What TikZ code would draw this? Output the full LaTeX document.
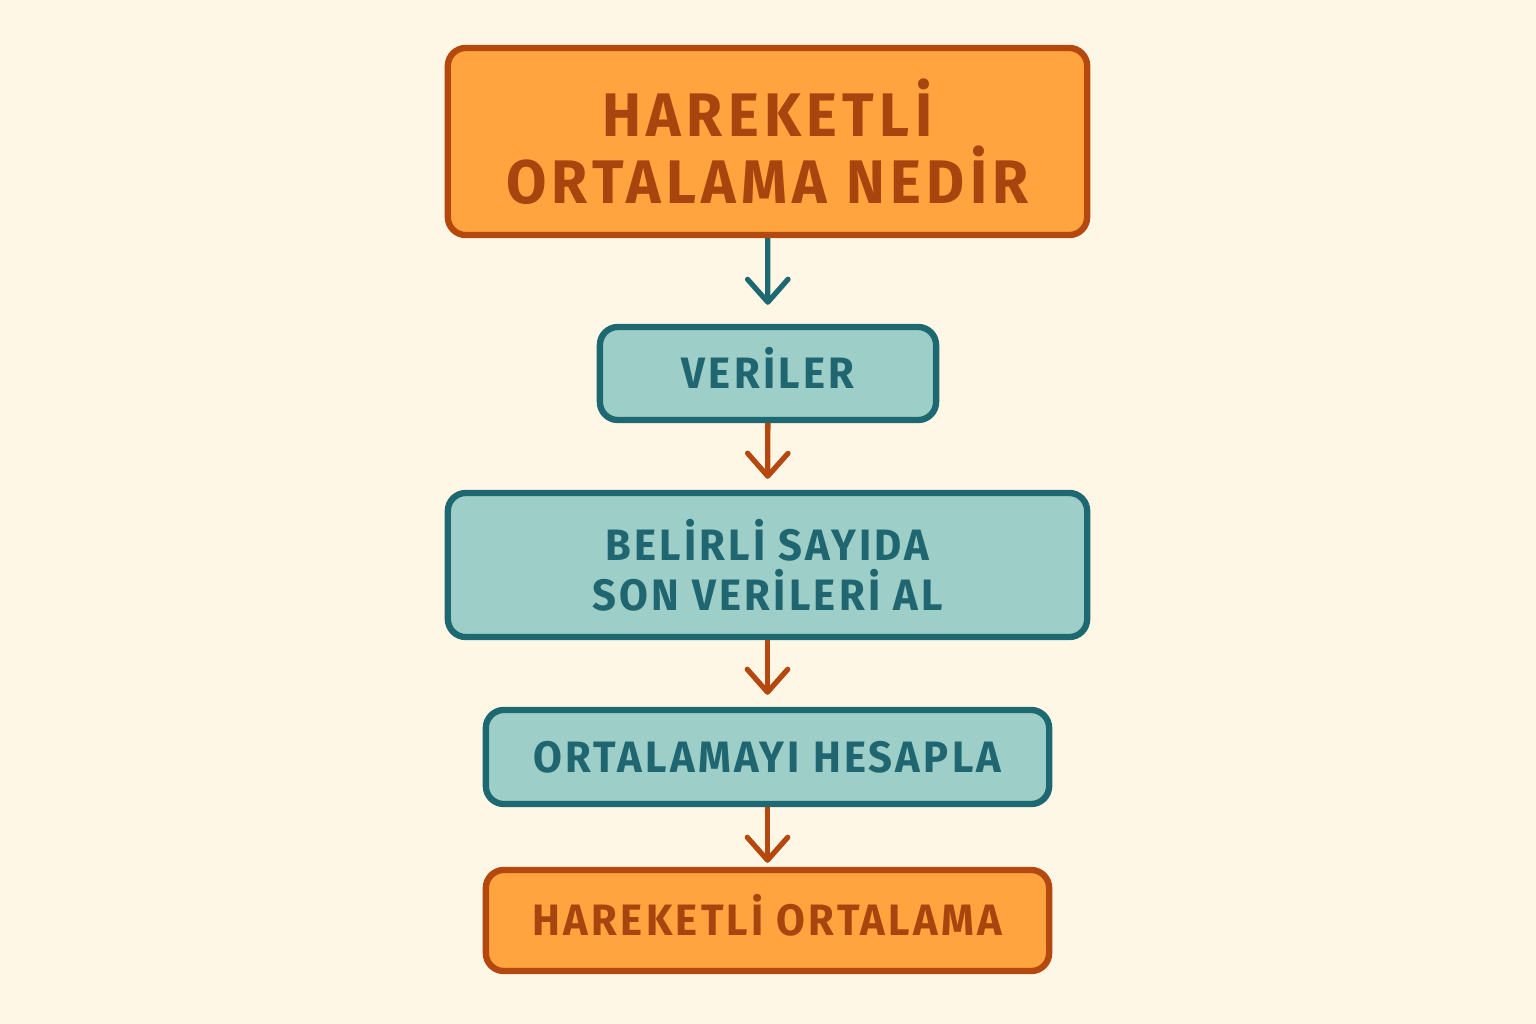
\documentclass[tikz,border=0pt]{standalone}
\usepackage{fontspec}
\usepackage{tikz}
\usetikzlibrary{positioning,arrows.meta}
\newfontfamily\boxfont[FakeStretch=0.95,LetterSpace=7.4]{Fira Sans}
\newfontfamily\titlefont[FakeStretch=0.95,LetterSpace=8.8]{Fira Sans}
\definecolor{bgcream}{HTML}{FFF7E6}
\definecolor{orfill}{HTML}{FFA43F}
\definecolor{ordraw}{HTML}{B4480E}
\definecolor{ortext}{HTML}{A8440E}
\definecolor{tlfill}{HTML}{9DCEC8}
\definecolor{tldraw}{HTML}{1E6871}
\definecolor{tltext}{HTML}{1F6670}

\begin{document}
\begin{tikzpicture}[
    x=0.01cm, y=-0.01cm,
    box/.style={rounded corners=0.18cm, line width=1.8pt, align=center, inner sep=0pt},
    orbox/.style={box, fill=orfill, draw=ordraw, text=ortext},
    tlbox/.style={box, fill=tlfill, draw=tldraw, text=tltext},
    big/.style={font=\titlefont\bfseries\fontsize{17.5}{19}\selectfont},
    small/.style={font=\boxfont\bfseries\fontsize{12.5}{14.2}\selectfont},
    oneline/.style={text height=8.6pt, text depth=0pt},
    flow/.style={line width=1.5pt, -{Straight Barb[round,length=6.5pt,width=11.5pt]}}
]
    % Arka plan
    \fill[bgcream] (0,0) rectangle (1536,1024);

    % Kutular
    \node[orbox, big, minimum width=6.39cm, minimum height=1.87cm] (baslik) at (767.5,141.5) {HAREKETLİ\\ORTALAMA NEDİR};
    \node[tlbox, small, oneline, minimum width=3.36cm, minimum height=0.93cm] (veri) at (768,373.5) {VERİLER};
    \node[tlbox, small, minimum width=6.39cm, minimum height=1.44cm] (al) at (767.5,565) {BELİRLİ SAYIDA\\SON VERİLERİ AL};
    \node[tlbox, small, oneline, minimum width=5.63cm, minimum height=0.94cm] (hesap) at (767.5,757) {ORTALAMAYI HESAPLA};
    \node[orbox, small, oneline, minimum width=5.63cm, minimum height=1.01cm] (sonuc) at (767.5,920.5) {HAREKETLİ ORTALAMA};

    % Oklar
    \draw[flow, tldraw, shorten >=0.19cm] (baslik) -- (veri);
    \draw[flow, ordraw, shorten >=0.11cm] (veri) -- (al);
    \draw[flow, ordraw, shorten >=0.12cm] (al) -- (hesap);
    \draw[flow, ordraw, shorten >=0.04cm] (hesap) -- (sonuc);
\end{tikzpicture}
\end{document}
